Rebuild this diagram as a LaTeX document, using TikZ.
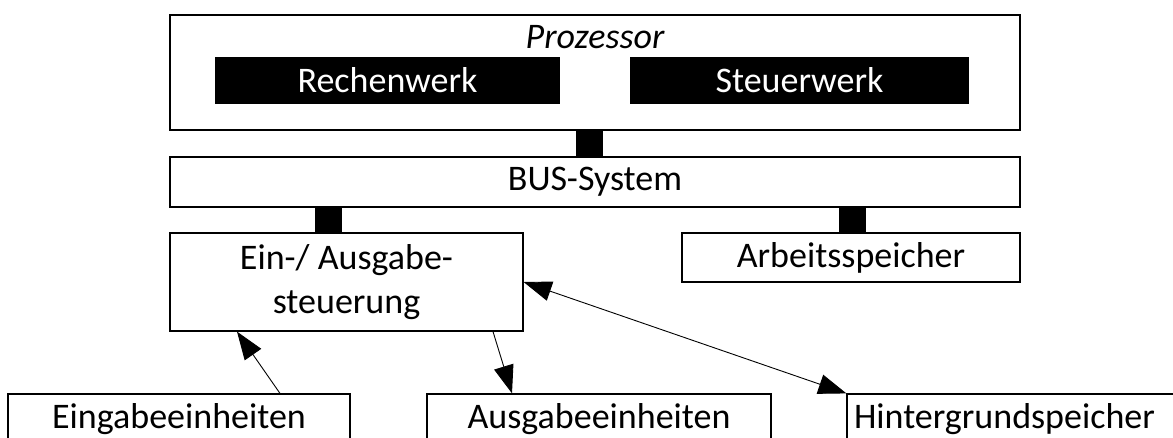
\documentclass[tikz,border=0pt]{standalone}
\usepackage{fontspec}
\setmainfont{Carlito}
\usepackage{tikz}
\usetikzlibrary{arrows.meta, calc}

\begin{document}
\begin{tikzpicture}[
    x=1pt, y=-1pt,
    unit/.style={rectangle, draw, line width=1.2pt, fill=white, inner sep=0pt, font=\fontsize{36}{44}\selectfont, align=center},
    core/.style={rectangle, fill=black, text=white, inner sep=0pt, font=\fontsize{36}{44}\selectfont},
    bar/.style={line width=27pt},
    link/.style={-{Triangle[length=28pt, width=20pt]}, line width=0.9pt},
    dlink/.style={{Triangle[length=28pt, width=20pt]}-{Triangle[length=28pt, width=20pt]}, line width=0.9pt}
]
\useasboundingbox (0,0) rectangle (1173,437);

% processor with its two parts
\node[unit, minimum width=850pt, minimum height=115pt] (proz) at (595,72.5) {};
\node[font=\fontsize{36}{44}\selectfont\itshape] (proztitle) at (595,37) {Prozessor};
\node[core, minimum width=345pt, minimum height=47pt] (rechen) at (387.5,80.5) {Rechenwerk};
\node[core, minimum width=339pt, minimum height=47pt] (steuer) at (799.5,80.5) {Steuerwerk};

% bus
\node[unit, minimum width=850pt, minimum height=50pt] (bus) at (595,182) {BUS-System};

% units on the bus
\node[unit, minimum width=353pt, minimum height=98pt] (eaus) at (346.5,282) {Ein-/ Ausgabe-\\steuerung};
\node[unit, minimum width=338pt, minimum height=49pt] (arbeit) at (851,257.5) {Arbeitsspeicher};

% peripherals
\node[unit, minimum width=342pt, minimum height=50pt] (eing) at (179,419) {Eingabeeinheiten};
\node[unit, minimum width=344pt, minimum height=50pt] (ausg) at (599,419) {Ausgabeeinheiten};
\node[unit, minimum width=343pt, minimum height=50pt, text width=329pt, align=left] (hint) at (1018.5,419) {Hintergrundspeicher};

% bus links
\draw[bar] ([xshift=-5.5pt]proz.south) -- ([xshift=-5.5pt]bus.north);
\draw[bar] ([xshift=-18.5pt]eaus.north) -- ([xshift=-18.5pt]eaus.north |- bus.south);
\draw[bar] ([xshift=1.5pt]arbeit.north) -- ([xshift=1.5pt]arbeit.north |- bus.south);

% data flow
\draw[link] ([xshift=101pt]eing.north) -- ([xshift=-109.5pt]eaus.south);
\draw[link] ([xshift=146.5pt]eaus.south) -- ([xshift=-87pt]ausg.north);
\draw[dlink] (eaus.east) -- (hint.north west);

\end{tikzpicture}
\end{document}
